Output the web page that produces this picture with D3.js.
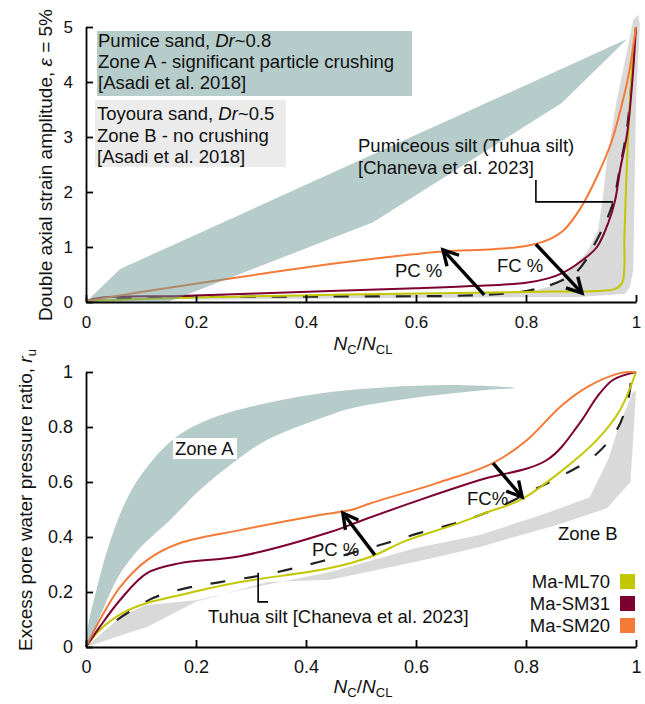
<!DOCTYPE html>
<html><head><meta charset="utf-8">
<script src="https://cdn.jsdelivr.net/npm/d3@7"></script>
<style>
body{margin:0;background:#fff}
svg{display:block}
text{font-family:"Liberation Sans",Arial,sans-serif;fill:#111}
</style></head>
<body>
<svg id="chart" width="645" height="704"></svg>
<script>
// ---------- data ----------
const xTicks = [0, 0.2, 0.4, 0.6, 0.8, 1];
const xTickLabels = ["0", "0.2", "0.4", "0.6", "0.8", "1"];
const strainTicks = [0, 1, 2, 3, 4, 5];
const strainTickLabels = ["0", "1", "2", "3", "4", "5"];
const ruTicks = [0, 0.2, 0.4, 0.6, 0.8, 1];
const ruTickLabels = ["0", "0.2", "0.4", "0.6", "0.8", "1"];
const seriesNames = ["Ma-ML70", "Ma-SM31", "Ma-SM20"];

// top panel: double axial strain amplitude vs Nc/NcL
const strainML70 = [[0,0.02],[0.2,0.08],[0.444,0.13],[0.7,0.17],[0.85,0.19],[0.93,0.2],[0.962,0.24],[0.975,0.35],[0.979,1.2],[0.983,2.4],[0.989,3.67],[0.995,4.58],[1.0,5.0]];
const strainSM31 = [[0,0.02],[0.03,0.08],[0.17,0.11],[0.444,0.2],[0.6,0.25],[0.7,0.29],[0.8,0.35],[0.84,0.43],[0.867,0.53],[0.9,0.74],[0.929,1.0],[0.95,1.45],[0.962,1.85],[0.971,2.4],[0.984,3.07],[0.993,3.98],[1.0,5.0]];
const strainSM20 = [[0,0.02],[0.1,0.18],[0.244,0.4],[0.444,0.69],[0.55,0.82],[0.649,0.92],[0.74,0.96],[0.8,1.02],[0.84,1.13],[0.87,1.32],[0.9,1.72],[0.93,2.3],[0.955,2.9],[0.972,3.5],[0.986,4.1],[1.0,5.0]];
const strainTuhua = [[0,0],[0.05,0.06],[0.2,0.09],[0.444,0.1],[0.7,0.12],[0.78,0.17],[0.82,0.24],[0.85,0.33],[0.875,0.44],[0.893,0.56],[0.906,0.72],[0.922,1.0],[0.94,1.35],[0.958,1.8],[0.971,2.45],[0.984,3.18],[0.995,4.4],[1.0,5.0]];
const strainZoneA = [[0,0],[0.062,0.6],[0.984,4.78],[0.865,3.62],[0.522,1.45],[0.149,0]];
const strainZoneB = [[0.2,0.04],[0.5,0.07],[0.8,0.09],[0.898,0.09],[0.98,0.15],[0.989,0.27],[0.995,0.58],[1.0,3.67],[1.007,5.04],[1.004,5.22],[0.995,5.13],[0.984,4.58],[0.965,3.67],[0.947,2.58],[0.94,1.91],[0.931,1.31],[0.911,0.91],[0.88,0.58],[0.85,0.3],[0.8,0.17],[0.5,0.14],[0.2,0.1]];

// bottom panel: excess pore water pressure ratio vs Nc/NcL
const ruML70 = [[0,0],[0.025,0.062],[0.067,0.124],[0.111,0.16],[0.171,0.189],[0.28,0.236],[0.444,0.287],[0.52,0.33],[0.58,0.385],[0.67,0.445],[0.73,0.49],[0.79,0.535],[0.867,0.644],[0.929,0.753],[0.971,0.862],[1.0,1.0]];
const ruSM31 = [[0,0],[0.025,0.073],[0.062,0.171],[0.111,0.269],[0.171,0.305],[0.28,0.33],[0.444,0.418],[0.504,0.462],[0.607,0.535],[0.716,0.607],[0.838,0.68],[0.898,0.815],[0.929,0.909],[0.958,0.971],[1.0,1.0]];
const ruSM20 = [[0,0],[0.025,0.098],[0.062,0.218],[0.111,0.316],[0.171,0.378],[0.28,0.425],[0.425,0.48],[0.485,0.5],[0.516,0.522],[0.638,0.596],[0.74,0.669],[0.802,0.753],[0.862,0.873],[0.911,0.945],[0.971,0.996],[1.0,1.0]];
const ruTuhua = [[0.056,0.098],[0.122,0.178],[0.184,0.215],[0.244,0.236],[0.33,0.265],[0.425,0.31],[0.547,0.378],[0.607,0.415],[0.68,0.455],[0.74,0.498],[0.807,0.564],[0.867,0.625],[0.922,0.691],[0.965,0.789],[0.984,0.887],[0.99,0.95],[0.992,1.03]];
const ruZoneA = [[0,0],[0.004,0.08],[0.018,0.2],[0.04,0.36],[0.07,0.52],[0.1,0.625],[0.158,0.755],[0.22,0.825],[0.329,0.887],[0.444,0.927],[0.547,0.945],[0.667,0.953],[0.78,0.942],[0.729,0.935],[0.607,0.909],[0.485,0.869],[0.444,0.844],[0.329,0.753],[0.267,0.669],[0.207,0.571],[0.153,0.462],[0.098,0.36],[0.06,0.26],[0.025,0.11]];
const ruZoneB = [[0,0],[0.067,0.116],[0.11,0.153],[0.2,0.17],[0.3,0.215],[0.444,0.273],[0.6,0.36],[0.716,0.407],[0.838,0.487],[0.916,0.545],[0.949,0.68],[0.971,0.815],[0.995,0.93],[1.0,0.93],[0.99,0.6],[0.947,0.505],[0.856,0.444],[0.716,0.364],[0.6,0.31],[0.444,0.245],[0.33,0.236],[0.2,0.165],[0.111,0.073],[0.075,0.05]];

// arrows [x1,y1,x2,y2] in data units
const strainArrowPC = [0.724,0.13,0.649,0.95];
const strainArrowFC = [0.818,1.05,0.902,0.16];
const ruArrowPC = [0.525,0.335,0.467,0.487];
const ruArrowFC = [0.74,0.669,0.793,0.545];

// ---------- styles ----------
const colML70 = "#c2c700", colSM31 = "#7c0030", colSM20 = "#f47a38";
const seriesColors = [colML70, colSM31, colSM20];
const zoneAFill = "#6b9997", zoneBFill = "#d9d9d9";

const svg = d3.select("#chart");
const x = d3.scaleLinear().domain([0,1]).range([86,636]);
const yS = d3.scaleLinear().domain([0,5]).range([302,27]);
const yR = d3.scaleLinear().domain([0,1]).range([647,372]);

function lineGen(y){ return d3.line().x(d=>x(d[0])).y(d=>y(d[1])).curve(d3.curveCatmullRom.alpha(0.5)); }
function polyGen(y){ return d3.line().x(d=>x(d[0])).y(d=>y(d[1])).curve(d3.curveLinearClosed); }
function smoothPolyGen(y){ return d3.line().x(d=>x(d[0])).y(d=>y(d[1])).curve(d3.curveCatmullRomClosed.alpha(0.5)); }

function arrow(g, a, y){
  const x1=x(a[0]), y1=y(a[1]), x2=x(a[2]), y2=y(a[3]);
  const ang = Math.atan2(y2-y1, x2-x1);
  const L = 17, sp = 0.5;
  g.append("line").attr("x1",x1).attr("y1",y1).attr("x2",x2).attr("y2",y2)
    .attr("stroke","#000").attr("stroke-width",3.4);
  const pts = [[x2 - L*Math.cos(ang-sp), y2 - L*Math.sin(ang-sp)],[x2,y2],[x2 - L*Math.cos(ang+sp), y2 - L*Math.sin(ang+sp)]];
  g.append("path").attr("d", d3.line()(pts)).attr("fill","none")
    .attr("stroke","#000").attr("stroke-width",3.4).attr("stroke-linejoin","miter");
}

function drawAxes(y, yTicks, yLabels, fs, padX){
  const gx = svg.append("g").attr("transform",`translate(0,${y.range()[0]})`)
    .call(d3.axisBottom(x).tickValues(xTicks).tickFormat((d,i)=>xTickLabels[i]).tickSizeInner(-7).tickSizeOuter(0).tickPadding(padX));
  const gy = svg.append("g").attr("transform",`translate(${x(0)},0)`)
    .call(d3.axisLeft(y).tickValues(yTicks).tickFormat((d,i)=>yLabels[i]).tickSizeInner(-7).tickSizeOuter(0).tickPadding(13));
  [gx,gy].forEach(g=>{
    g.select(".domain").attr("stroke","#000").attr("stroke-width",1.8);
    g.selectAll(".tick line").attr("stroke","#000").attr("stroke-width",1.8);
    g.selectAll(".tick text").attr("font-size",fs).attr("fill","#111")
      .style("font-family",'"Liberation Sans",Arial,sans-serif');
  });
}

function xTitle(yb){
  const t = svg.append("text").attr("x",x(0.5)+2).attr("y",yb).attr("text-anchor","middle").attr("font-size",19);
  t.append("tspan").attr("font-style","italic").text("N");
  t.append("tspan").attr("font-size",13).attr("dy",4).text("C");
  t.append("tspan").attr("dy",-4).text("/");
  t.append("tspan").attr("font-style","italic").text("N");
  t.append("tspan").attr("font-size",13).attr("dy",4).text("CL");
}

function lines(g, x0, ys, arr, fs){
  arr.forEach((parts,i)=>{
    const t = g.append("text").attr("x",x0).attr("y",ys[i]).attr("font-size",fs);
    parts.forEach(p=>{ const s=t.append("tspan").text(p[0]); if(p[1]) s.attr("font-style","italic"); });
  });
}

// ================= TOP PANEL =================
const gTop = svg.append("g");
gTop.append("path").attr("d", polyGen(yS)(strainZoneB)).attr("fill",zoneBFill);
gTop.append("path").attr("d", lineGen(yS)(strainTuhua)).attr("fill","none").attr("stroke","#222").attr("stroke-width",2.2).attr("stroke-dasharray","15,16");
gTop.append("path").attr("d", lineGen(yS)(strainML70)).attr("fill","none").attr("stroke",colML70).attr("stroke-width",2);
gTop.append("path").attr("d", lineGen(yS)(strainSM31)).attr("fill","none").attr("stroke",colSM31).attr("stroke-width",2);
gTop.append("path").attr("d", lineGen(yS)(strainSM20)).attr("fill","none").attr("stroke",colSM20).attr("stroke-width",2);
gTop.append("path").attr("d", polyGen(yS)(strainZoneA)).attr("fill",zoneAFill).attr("fill-opacity",0.5);

gTop.append("rect").attr("x",97).attr("y",31).attr("width",315).attr("height",65).attr("fill","#b5cccb");
gTop.append("rect").attr("x",95).attr("y",100).attr("width",191).attr("height",67).attr("fill","#ebebeb");
lines(gTop, 98, [47,68,89], [[["Pumice sand, "],["Dr",1],["~0.8"]],[["Zone A - significant particle crushing"]],[["[Asadi et al. 2018]"]]], 18.5);
lines(gTop, 97, [120,142,163], [[["Toyoura sand, "],["Dr",1],["~0.5"]],[["Zone B - no crushing"]],[["[Asadi et al. 2018]"]]], 18.5);
lines(gTop, 358, [152,174], [[["Pumiceous silt (Tuhua silt)"]],[["[Chaneva et al. 2023]"]]], 18.5);
gTop.append("path").attr("d", d3.line()([[x(0.818),yS(2.22)],[x(0.818),yS(1.82)],[x(0.958),yS(1.82)]]))
  .attr("fill","none").attr("stroke","#000").attr("stroke-width",1.6);
gTop.append("text").attr("x",395).attr("y",277).attr("font-size",18.5).text("PC %");
gTop.append("text").attr("x",497).attr("y",272).attr("font-size",18.5).text("FC %");
arrow(gTop, strainArrowPC, yS);
arrow(gTop, strainArrowFC, yS);

drawAxes(yS, strainTicks, strainTickLabels, 17, 14);
xTitle(350);
const ytTop = svg.append("text").attr("transform",`translate(52,165) rotate(-90)`).attr("text-anchor","middle").attr("font-size",19);
ytTop.append("tspan").text("Double axial strain amplitude, ");
ytTop.append("tspan").attr("font-style","italic").text("ε");
ytTop.append("tspan").text(" = 5%");

// ================= BOTTOM PANEL =================
const gBot = svg.append("g");
gBot.append("path").attr("d", polyGen(yR)(ruZoneB)).attr("fill",zoneBFill);
gBot.append("path").attr("d", lineGen(yR)(ruTuhua)).attr("fill","none").attr("stroke","#222").attr("stroke-width",2.2).attr("stroke-dasharray","15,19");
gBot.append("path").attr("d", lineGen(yR)(ruML70)).attr("fill","none").attr("stroke",colML70).attr("stroke-width",2);
gBot.append("path").attr("d", lineGen(yR)(ruSM31)).attr("fill","none").attr("stroke",colSM31).attr("stroke-width",2);
gBot.append("path").attr("d", lineGen(yR)(ruSM20)).attr("fill","none").attr("stroke",colSM20).attr("stroke-width",2);
gBot.append("path").attr("d", smoothPolyGen(yR)(ruZoneA)).attr("fill",zoneAFill).attr("fill-opacity",0.5);

gBot.append("rect").attr("x",173).attr("y",438).attr("width",64).attr("height",21).attr("fill","#fff");
gBot.append("text").attr("x",175).attr("y",455).attr("font-size",18.5).text("Zone A");
gBot.append("text").attr("x",558).attr("y",540).attr("font-size",18.5).text("Zone B");
gBot.append("text").attr("x",467).attr("y",505).attr("font-size",18.5).text("FC%");
gBot.append("text").attr("x",312).attr("y",556).attr("font-size",18.5).text("PC %");
gBot.append("text").attr("x",208).attr("y",623).attr("font-size",18.5).text("Tuhua silt [Chaneva et al. 2023]");
gBot.append("path").attr("d", d3.line()([[x(0.313),yR(0.27)],[x(0.313),yR(0.164)],[x(0.331),yR(0.164)]]))
  .attr("fill","none").attr("stroke","#000").attr("stroke-width",1.6);
arrow(gBot, ruArrowPC, yR);
arrow(gBot, ruArrowFC, yR);

seriesNames.forEach((n,i)=>{
  const yy = 588 + i*22;
  gBot.append("text").attr("x",610).attr("y",yy).attr("text-anchor","end").attr("font-size",18.5).text(n);
  gBot.append("rect").attr("x",620).attr("y",yy-14).attr("width",15).attr("height",15).attr("fill",seriesColors[i]);
});

drawAxes(yR, ruTicks, ruTickLabels, 18, 13);
xTitle(693);
const ytBot = svg.append("text").attr("transform",`translate(32,500) rotate(-90)`).attr("text-anchor","middle").attr("font-size",19);
ytBot.append("tspan").text("Excess pore water pressure ratio, ");
ytBot.append("tspan").attr("font-style","italic").text("r");
ytBot.append("tspan").attr("font-size",13).attr("dy",4).text("u");
</script>
</body></html>
